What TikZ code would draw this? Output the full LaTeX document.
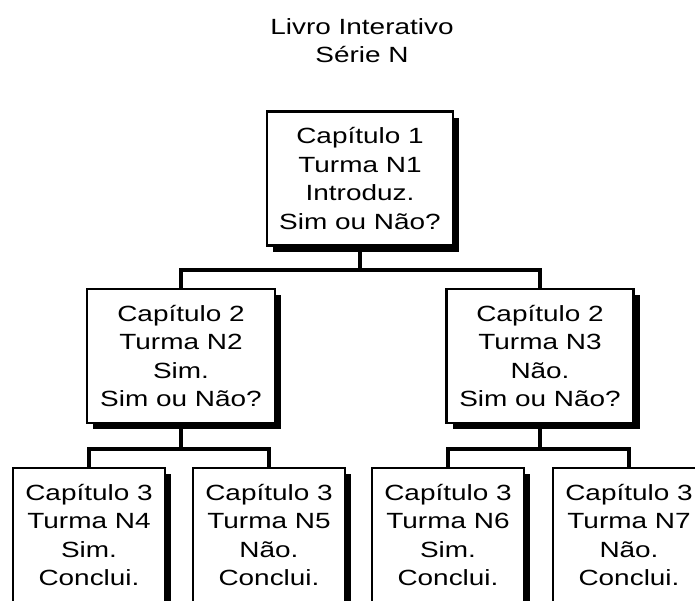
\documentclass[tikz,border=0pt]{standalone}
\usepackage{fontspec}
\setmainfont{Liberation Sans}[FakeStretch=1.27]
\usetikzlibrary{positioning,shadows}
\tikzset{
  chapter box/.style={
    draw, fill=white,
    line width=2.5pt,
    minimum width={#1},
    minimum height={134pt},
    align=center,
    inner sep=0pt,
    drop shadow={shadow xshift=6pt, shadow yshift=-6pt, opacity=1, fill=black},
  },
  branch/.style={
    line width=4pt,
  }
}

\begin{document}
\begin{tikzpicture}[x=1pt, y=-1pt, font=\fontsize{22}{28.5}\selectfont]
        \path [use as bounding box] (0,0) rectangle (695,600);
        \clip (0,0) rectangle (695,600);

        \node [anchor=north, align=center] (title) at (362,15) {Livro Interativo\\Série N};

        \node [chapter box=186pt] (n1) at (360,178.5) {Capítulo 1\\Turma N1\\Introduz.\\Sim ou Não?};
        \node [chapter box=188pt] (n2) at (181,356) {Capítulo 2\\Turma N2\\Sim.\\Sim ou Não?};
        \node [chapter box=187pt] (n3) at (540,356) {Capítulo 2\\Turma N3\\Não.\\Sim ou Não?};

        \node [chapter box=152pt] (n4) at (89,535) {Capítulo 3\\Turma N4\\Sim.\\Conclui.};
        \node [chapter box=152pt] (n5) at (269,535) {Capítulo 3\\Turma N5\\Não.\\Conclui.};
        \node [chapter box=152pt] (n6) at (448,535) {Capítulo 3\\Turma N6\\Sim.\\Conclui.};
        \node [chapter box=152pt] (n7) at (629,535) {Capítulo 3\\Turma N7\\Não.\\Conclui.};

        \draw [branch] (n1.south) -- ++(0,23) -| (n2.north);
        \draw [branch] (n1.south) -- ++(0,23) -| (n3.north);
        \draw [branch] (n2.south) -- ++(0,25) -| (n4.north);
        \draw [branch] (n2.south) -- ++(0,25) -| (n5.north);
        \draw [branch] (n3.south) -- ++(0,25) -| (n6.north);
        \draw [branch] (n3.south) -- ++(0,25) -| (n7.north);
      \end{tikzpicture}
\end{document}
